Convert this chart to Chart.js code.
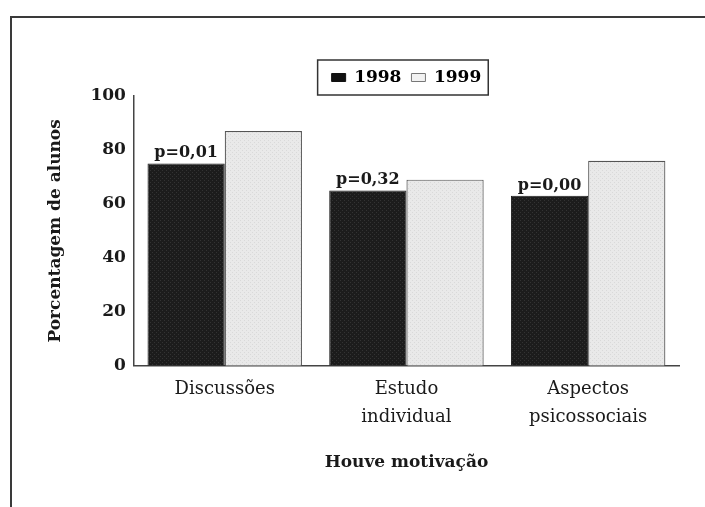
<!DOCTYPE html>
<html>
<head>
<meta charset="utf-8">
<script src="https://cdn.jsdelivr.net/npm/chart.js@4/dist/chart.umd.min.js"></script>
<style>
  html, body { margin: 0; padding: 0; background: #fff; }
  #wrap { position: relative; width: 705px; height: 507px; overflow: hidden; }
  #frame { position: absolute; left: 10px; top: 16px; right: -20px; bottom: -20px;
           border-top: 2px solid #3a3a3a; border-left: 2px solid #3a3a3a; }
  #c { position: absolute; left: 0; top: 0; }
</style>
</head>
<body>
<div id="wrap">
  <div id="frame"></div>
  <canvas id="c" width="705" height="507"></canvas>
</div>
<script>
// data
const categories = [["Discussões"], ["Estudo", "individual"], ["Aspectos", "psicossociais"]];
const series1998 = [75, 65, 63];
const series1999 = [87, 69, 76];
const pLabels = ["p=0,01", "p=0,32", "p=0,00"];
const yTicks = [0, 20, 40, 60, 80, 100];

const serif = "'DejaVu Serif', 'Liberation Serif', serif";

// small halftone-ish fills
function makePattern(base, dot) {
    const c = document.createElement("canvas");
    c.width = 4; c.height = 4;
    const g = c.getContext("2d");
    g.fillStyle = base;
    g.fillRect(0, 0, 4, 4);
    g.fillStyle = dot;
    g.fillRect(0, 0, 1, 1);
    g.fillRect(2, 2, 1, 1);
    return g.createPattern(c, "repeat");
}
const darkFill = makePattern("#1c1c1c", "#333333");
const lightFill = makePattern("#e9e9e9", "#d9d9d9");

// p-values above the 1998 bars
const pLabelPlugin = {
    id: "pLabels",
    afterDatasetsDraw(chart) {
        const ctx = chart.ctx;
        const meta = chart.getDatasetMeta(0);
        ctx.save();
        ctx.font = "bold 16px " + serif;
        ctx.fillStyle = "#1a1a1a";
        ctx.textAlign = "center";
        ctx.textBaseline = "alphabetic";
        meta.data.forEach((bar, i) => {
            ctx.fillText(pLabels[i], bar.x, bar.y - 6);
        });
        ctx.restore();
    }
};

// box round the legend
const legendBoxPlugin = {
    id: "legendBox",
    afterDraw(chart) {
        const lg = chart.legend;
        if (!lg || !lg.legendHitBoxes.length) return;
        const boxes = lg.legendHitBoxes;
        const left = Math.min(...boxes.map(b => b.left)) - 14;
        const right = Math.max(...boxes.map(b => b.left + b.width)) + 7;
        const ctx = chart.ctx;
        ctx.save();
        ctx.strokeStyle = "#333";
        ctx.lineWidth = 1.5;
        ctx.strokeRect(left, lg.top + 1, right - left, lg.height - 2);
        ctx.restore();
    }
};

new Chart(document.getElementById("c"), {
    type: "bar",
    data: {
        labels: categories,
        datasets: [
            {
                label: "1998",
                data: series1998,
                backgroundColor: darkFill,
                borderColor: "#1a1a1a",
                borderWidth: 1
            },
            {
                label: "1999",
                data: series1999,
                backgroundColor: lightFill,
                borderColor: "#555",
                borderWidth: 1.2
            }
        ]
    },
    options: {
        responsive: false,
        animation: false,
        layout: { padding: { left: 45, right: 26, top: 59, bottom: 34 } },
        datasets: { bar: { categoryPercentage: 0.85, barPercentage: 1 } },
        plugins: {
            tooltip: { enabled: false },
            legend: {
                position: "top",
                fullSize: false,
                labels: {
                    boxWidth: 14,
                    boxHeight: 8,
                    padding: 10,
                    color: "#1a1a1a",
                    font: { family: serif, size: 17, weight: "bold" },
                    generateLabels: () => [
                        { text: "1998", fillStyle: "#111", strokeStyle: "#111", lineWidth: 1, datasetIndex: 0 },
                        { text: "1999", fillStyle: "#f2f2f2", strokeStyle: "#777", lineWidth: 1, datasetIndex: 1 }
                    ]
                }
            }
        },
        scales: {
            x: {
                grid: { display: false },
                border: { display: true, color: "#444", width: 1.5 },
                ticks: {
                    color: "#1a1a1a",
                    padding: 2,
                    maxRotation: 0,
                    font: { family: serif, size: 18, lineHeight: 1.55 }
                },
                title: {
                    display: true,
                    text: "Houve motivação",
                    color: "#1a1a1a",
                    padding: { top: 19, bottom: 0 },
                    font: { family: serif, size: 17, weight: "bold" }
                }
            },
            y: {
                min: 0,
                max: 100,
                grid: { display: false, drawTicks: false },
                border: { display: true, color: "#444", width: 1.5 },
                afterBuildTicks: axis => { axis.ticks = yTicks.map(v => ({ value: v })); },
                ticks: {
                    color: "#1a1a1a",
                    padding: 8,
                    font: { family: serif, size: 17, weight: "bold" }
                },
                title: {
                    display: true,
                    text: "Porcentagem de alunos",
                    color: "#1a1a1a",
                    padding: { top: 0, bottom: 17 },
                    font: { family: serif, size: 17, weight: "bold" }
                }
            }
        }
    },
    plugins: [pLabelPlugin, legendBoxPlugin]
});
</script>
</body>
</html>
